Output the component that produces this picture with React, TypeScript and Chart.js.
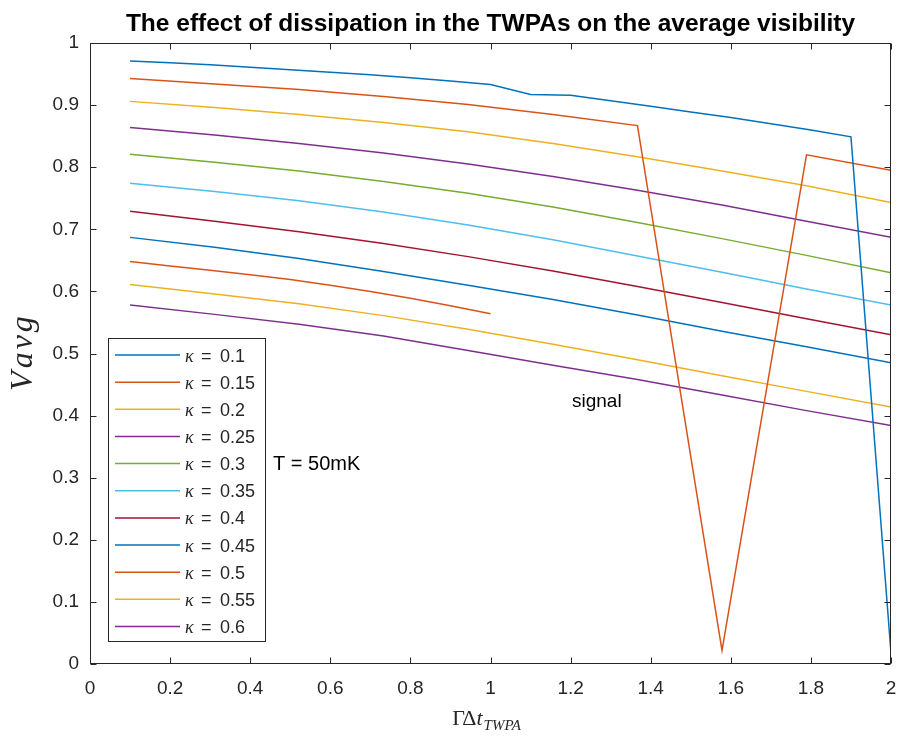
import React, { useEffect, useRef } from "react";
import { Chart, registerables } from "chart.js";

Chart.register(...registerables);

// ---- data ----
const X20 = [0.1, 0.2, 0.3, 0.4, 0.5, 0.6, 0.7, 0.8, 0.9, 1.0, 1.1, 1.2, 1.3, 1.4, 1.5, 1.6, 1.7, 1.8, 1.9, 2.0];
const X10 = [0.1, 0.311, 0.522, 0.733, 0.944, 1.156, 1.367, 1.578, 1.789, 2.0];
const XHALF = [0.1, 0.2, 0.3, 0.4, 0.5, 0.6, 0.7, 0.8, 0.9, 1.0];

const k010 = [0.971, 0.968, 0.965, 0.961, 0.957, 0.953, 0.949, 0.944, 0.939, 0.933, 0.917, 0.916, 0.907, 0.898, 0.889, 0.880, 0.870, 0.860, 0.849, 0.018];
const k015 = [0.943, 0.934, 0.925, 0.914, 0.901, 0.885, 0.867, 0.022, 0.820, 0.795];
const k020 = [0.906, 0.896, 0.885, 0.872, 0.857, 0.838, 0.817, 0.794, 0.770, 0.743];
const k025 = [0.864, 0.852, 0.838, 0.823, 0.805, 0.785, 0.763, 0.739, 0.713, 0.687];
const k030 = [0.821, 0.808, 0.794, 0.777, 0.758, 0.736, 0.711, 0.685, 0.658, 0.630];
const k035 = [0.774, 0.761, 0.746, 0.728, 0.707, 0.683, 0.657, 0.631, 0.604, 0.578];
const k040 = [0.729, 0.713, 0.696, 0.677, 0.656, 0.633, 0.608, 0.582, 0.556, 0.530];
const k045 = [0.687, 0.671, 0.653, 0.632, 0.610, 0.587, 0.562, 0.536, 0.511, 0.485];
const k050 = [0.648, 0.641, 0.634, 0.627, 0.619, 0.610, 0.600, 0.589, 0.577, 0.564];
const k055 = [0.611, 0.596, 0.580, 0.561, 0.539, 0.515, 0.490, 0.464, 0.439, 0.414];
const k060 = [0.578, 0.563, 0.547, 0.528, 0.505, 0.481, 0.458, 0.433, 0.408, 0.384];

const kappaLabels = ["0.1", "0.15", "0.2", "0.25", "0.3", "0.35", "0.4", "0.45", "0.5", "0.55", "0.6"];
const seriesX = [X20, X10, X10, X10, X10, X10, X10, X10, XHALF, X10, X10];
const seriesY = [k010, k015, k020, k025, k030, k035, k040, k045, k050, k055, k060];
const COLORS = ["#0072BD", "#D95319", "#EDB120", "#7E2F8E", "#77AC30", "#4DBEEE", "#A2142F", "#0072BD", "#D95319", "#EDB120", "#7E2F8E"];

const xTicks = [0, 0.2, 0.4, 0.6, 0.8, 1, 1.2, 1.4, 1.6, 1.8, 2];
const xTickLabels = ["0", "0.2", "0.4", "0.6", "0.8", "1", "1.2", "1.4", "1.6", "1.8", "2"];
const yTicks = [0, 0.1, 0.2, 0.3, 0.4, 0.5, 0.6, 0.7, 0.8, 0.9, 1];
const yTickLabels = ["0", "0.1", "0.2", "0.3", "0.4", "0.5", "0.6", "0.7", "0.8", "0.9", "1"];

const TITLE = "The effect of dissipation in the TWPAs on the average visibility";
const TEMP_NOTE = "T = 50mK";
const SIGNAL_NOTE = "signal";

const SANS = "'Liberation Sans', Arial, Helvetica, sans-serif";
const SERIF = "'Liberation Serif', 'Times New Roman', serif";
const AXIS_COLOR = "#262626";

const decorPlugin = {
  id: "decor",
  afterDraw(chart: any) {
    const ctx: CanvasRenderingContext2D = chart.ctx;
    const { left, right, top, bottom } = chart.chartArea;
    const xs = chart.scales.x;
    const ys = chart.scales.y;
    ctx.save();

    // frame
    ctx.strokeStyle = AXIS_COLOR;
    ctx.lineWidth = 1;
    const L = Math.round(left) + 0.5, R = Math.round(right) - 0.5;
    const T = Math.round(top) + 0.5, B = Math.round(bottom) - 0.5;
    ctx.strokeRect(L, T, R - L, B - T);

    // inward ticks
    const tl = 6;
    ctx.beginPath();
    xTicks.forEach((v) => {
      const px = Math.round(xs.getPixelForValue(v)) + 0.5;
      ctx.moveTo(px, B); ctx.lineTo(px, B - tl);
      ctx.moveTo(px, T); ctx.lineTo(px, T + tl);
    });
    yTicks.forEach((v) => {
      const py = Math.round(ys.getPixelForValue(v)) + 0.5;
      ctx.moveTo(L, py); ctx.lineTo(L + tl, py);
      ctx.moveTo(R, py); ctx.lineTo(R - tl, py);
    });
    ctx.stroke();

    // title
    ctx.fillStyle = "#000";
    ctx.font = `bold 24.5px ${SANS}`;
    ctx.textAlign = "center";
    ctx.textBaseline = "alphabetic";
    ctx.fillText(TITLE, (left + right) / 2, 31);

    // x label: Γ Δ t_{TWPA}
    ctx.fillStyle = AXIS_COLOR;
    ctx.textAlign = "left";
    const f1 = `22px ${SERIF}`, f2 = `italic 22px ${SERIF}`, f3 = `italic 15px ${SERIF}`;
    ctx.font = f1; const w1 = ctx.measureText("ΓΔ").width;
    ctx.font = f2; const w2 = ctx.measureText("t").width;
    ctx.font = f3; const w3 = ctx.measureText("TWPA").width;
    let sx = (left + right) / 2 - 4 - (w1 + w2 + w3 + 1) / 2;
    ctx.font = f1; ctx.fillText("ΓΔ", sx, 725); sx += w1;
    ctx.font = f2; ctx.fillText("t", sx, 725); sx += w2 + 1;
    ctx.font = f3; ctx.fillText("TWPA", sx, 730);

    // y label: V_avg (math italic)
    ctx.save();
    ctx.translate(32, (top + bottom) / 2);
    ctx.rotate(-Math.PI / 2);
    ctx.font = `italic 32px ${SERIF}`;
    const letters = ["V", "a", "v", "g"];
    const gap = 3;
    const widths = letters.map((c) => ctx.measureText(c).width);
    const total = widths.reduce((a, b) => a + b, 0) + gap * (letters.length - 1);
    let lx = -total / 2;
    letters.forEach((c, i) => { ctx.fillText(c, lx, 0); lx += widths[i] + gap; });
    ctx.restore();

    // legend
    const bx = 108.5, by = 338.5, bw = 157, bh = 303;
    ctx.fillStyle = "#fff";
    ctx.fillRect(bx, by, bw, bh);
    ctx.strokeStyle = AXIS_COLOR;
    ctx.lineWidth = 1;
    ctx.strokeRect(bx, by, bw, bh);
    chart.data.datasets.forEach((ds: any, i: number) => {
      const yy = 355 + i * 27.15;
      ctx.strokeStyle = ds.borderColor;
      ctx.lineWidth = 1.5;
      ctx.beginPath(); ctx.moveTo(115, yy); ctx.lineTo(180, yy); ctx.stroke();
      ctx.fillStyle = AXIS_COLOR;
      ctx.font = `italic 18px ${SERIF}`;
      ctx.fillText("κ", 185, yy + 6.5);
      ctx.font = `18px ${SANS}`;
      ctx.fillText("=", 201, yy + 6.5);
      ctx.fillText(kappaLabels[i], 220, yy + 6.5);
    });

    // annotations
    ctx.fillStyle = "#000";
    ctx.font = `20px ${SANS}`;
    ctx.fillText(TEMP_NOTE, 273, 470);
    ctx.font = `19px ${SANS}`;
    ctx.fillText(SIGNAL_NOTE, 572, 407);

    ctx.restore();
  },
};

export default function App() {
  const canvasRef = useRef<HTMLCanvasElement | null>(null);

  useEffect(() => {
    document.body.style.margin = "0";
    const canvas = canvasRef.current;
    if (!canvas) return;
    const datasets = seriesY.map((ys, i) => ({
      label: `κ = ${kappaLabels[i]}`,
      data: ys.map((y, j) => ({ x: seriesX[i][j], y })),
      borderColor: COLORS[i],
      backgroundColor: COLORS[i],
      borderWidth: 1.5,
      pointRadius: 0,
      fill: false,
      tension: 0,
    }));
    const tickFont = { family: SANS, size: 19 };
    const chart = new Chart(canvas, {
      type: "line",
      data: { datasets },
      options: {
        animation: false,
        responsive: true,
        maintainAspectRatio: false,
        layout: { padding: { top: 43, right: 7, left: 0, bottom: 0 } },
        plugins: {
          legend: { display: false },
          title: { display: false },
          tooltip: { enabled: false },
        },
        scales: {
          x: {
            type: "linear",
            min: 0,
            max: 2,
            afterBuildTicks: (s: any) => { s.ticks = xTicks.map((v) => ({ value: v })); },
            afterFit: (s: any) => {
              s.height = 78;
              s.paddingLeft = 0; s.paddingRight = 0; s.paddingTop = 0; s.paddingBottom = 0;
            },
            ticks: {
              callback: (_v: any, i: number) => xTickLabels[i],
              font: tickFont,
              color: AXIS_COLOR,
              padding: 13,
              maxRotation: 0,
              autoSkip: false,
            },
            grid: { display: false, drawTicks: false },
            border: { display: false },
          },
          y: {
            type: "linear",
            min: 0,
            max: 1,
            afterBuildTicks: (s: any) => { s.ticks = yTicks.map((v) => ({ value: v })); },
            afterFit: (s: any) => {
              s.width = 90;
              s.paddingLeft = 0; s.paddingRight = 0; s.paddingTop = 0; s.paddingBottom = 0;
            },
            ticks: {
              callback: (_v: any, i: number) => yTickLabels[i],
              font: tickFont,
              color: AXIS_COLOR,
              padding: 11,
              autoSkip: false,
            },
            grid: { display: false, drawTicks: false },
            border: { display: false },
          },
        },
      } as any,
      plugins: [decorPlugin],
    });
    return () => chart.destroy();
  }, []);

  return (
    <div style={{ position: "relative", width: 898, height: 742, background: "#fff" }}>
      <canvas ref={canvasRef} />
    </div>
  );
}
